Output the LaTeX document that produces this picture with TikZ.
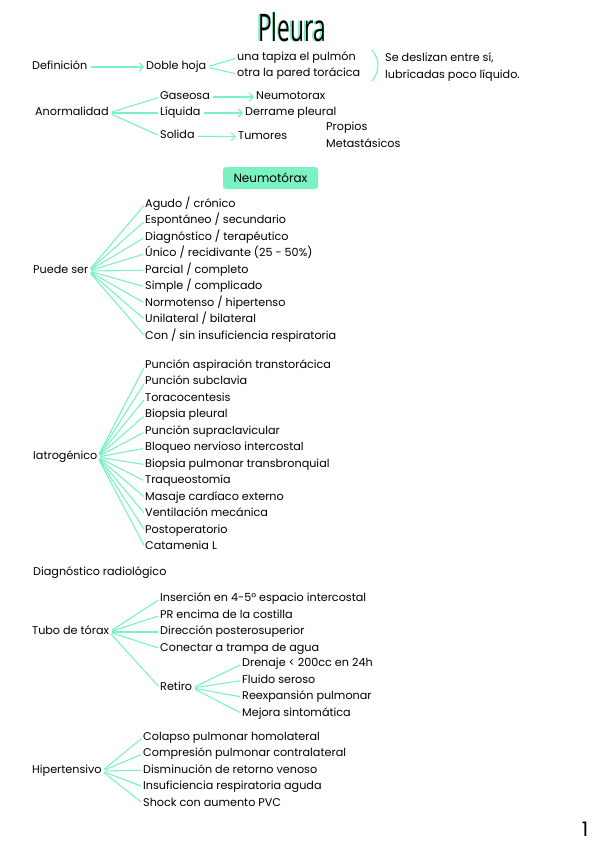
\documentclass[tikz,border=0pt]{standalone}
\usepackage{fontspec}
\setmainfont{Poppins}
\newfontfamily\titlefont{Open Sans}
\usetikzlibrary{positioning,arrows.meta}
\definecolor{mint}{RGB}{122,242,196}

\begin{document}
\begin{tikzpicture}[x=1pt,y=-1pt,
    lbl/.style={
        inner sep=0pt, anchor=west,
        text height=8pt, text depth=2.5pt,
        font=\fontsize{11.2}{13}\selectfont
    },
    under/.style={below=16.5pt of #1.west, anchor=west},
    link/.style={draw=mint, line width=1.1pt, shorten <=3pt, shorten >=2pt},
    arr/.style={link, -{Straight Barb[length=4pt,width=8pt]}},
    tag/.style={
        rectangle, fill=mint, rounded corners=3pt,
        minimum width=95pt, minimum height=22pt,
        font=\fontsize{12}{14}\selectfont
    }
]
\useasboundingbox (0,0) rectangle (599,848);

% title
\node[text=mint, font=\titlefont\fontsize{38}{40}\selectfont] (ttlbg) at (290.5,27) {\scalebox{0.6}[1]{Pleura}};
\node[font=\titlefont\fontsize{38}{40}\selectfont] (ttl) at (292,27) {\scalebox{0.6}[1]{Pleura}};

% definicion
\node[lbl] (def) at (32,67) {Definición};
\node[lbl] (dh) at (146,67) {Doble hoja};
\node[lbl] (ut) at (237,58) {una tapiza el pulmón};
\node[lbl] (ot) at (237,74) {otra la pared torácica};
\node[lbl] (sd) at (385,59) {Se deslizan entre sí,};
\node[lbl] (lb) at (385,76) {lubricadas poco líquido.};
\draw[arr] (def) -- (dh);
\draw[link] (dh.east) -- (ut.west);
\draw[link] (dh.east) -- (ot.west);
\draw[mint, line width=1.1pt] (372,50) .. controls (380,60) and (380,71) .. (372,81);

% anormalidad
\node[lbl] (an) at (35,113) {Anormalidad};
\node[lbl] (ga) at (160,97) {Gaseosa};
\node[lbl] (li) at (160,113) {Líquida};
\node[lbl] (so) at (160,136) {Solida};
\node[lbl] (ne) at (256,97) {Neumotorax};
\node[lbl] (de) at (245,113) {Derrame pleural};
\node[lbl] (tu) at (238,137) {Tumores};
\node[lbl] (pr) at (326,128) {Propios};
\node[lbl] (me) at (326,145) {Metastásicos};
\draw[link] (an.east) -- (ga.west);
\draw[link] (an.east) -- (li.west);
\draw[link] (an.east) -- (so.west);
\draw[arr] (ga) -- (ne);
\draw[arr] (li) -- (de);
\draw[arr] (so) -- (tu);

% neumotorax
\node[tag] (nt) at (270.5,178) {Neumotórax};

\node[lbl] (ps) at (33,271) {Puede ser};
\node[lbl] (ps1) at (145,204.3) {Agudo / crónico};
\node[lbl, under=ps1] (ps2) {Espontáneo / secundario};
\node[lbl, under=ps2] (ps3) {Diagnóstico / terapéutico};
\node[lbl, under=ps3] (ps4) {Único / recidivante (25 - 50\%)};
\node[lbl, under=ps4] (ps5) {Parcial / completo};
\node[lbl, under=ps5] (ps6) {Simple / complicado};
\node[lbl, under=ps6] (ps7) {Normotenso / hipertenso};
\node[lbl, under=ps7] (ps8) {Unilateral / bilateral};
\node[lbl, under=ps8] (ps9) {Con / sin insuficiencia respiratoria};
\draw[link] (ps.east) -- (ps1.west);
\draw[link] (ps.east) -- (ps2.west);
\draw[link] (ps.east) -- (ps3.west);
\draw[link] (ps.east) -- (ps4.west);
\draw[link] (ps.east) -- (ps5.west);
\draw[link] (ps.east) -- (ps6.west);
\draw[link] (ps.east) -- (ps7.west);
\draw[link] (ps.east) -- (ps8.west);
\draw[link] (ps.east) -- (ps9.west);

\node[lbl] (ia) at (33,457) {Iatrogénico};
\node[lbl] (ia1) at (145,365.7) {Punción aspiración transtorácica};
\node[lbl, under=ia1] (ia2) {Punción subclavia};
\node[lbl, under=ia2] (ia3) {Toracocentesis};
\node[lbl, under=ia3] (ia4) {Biopsia pleural};
\node[lbl, under=ia4] (ia5) {Punción supraclavicular};
\node[lbl, under=ia5] (ia6) {Bloqueo nervioso intercostal};
\node[lbl, under=ia6] (ia7) {Biopsia pulmonar transbronquial};
\node[lbl, under=ia7] (ia8) {Traqueostomía};
\node[lbl, under=ia8] (ia9) {Masaje cardíaco externo};
\node[lbl, under=ia9] (ia10) {Ventilación mecánica};
\node[lbl, under=ia10] (ia11) {Postoperatorio};
\node[lbl, under=ia11] (ia12) {Catamenia L};
\draw[link] (ia.east) -- (ia1.west);
\draw[link] (ia.east) -- (ia2.west);
\draw[link] (ia.east) -- (ia3.west);
\draw[link] (ia.east) -- (ia4.west);
\draw[link] (ia.east) -- (ia5.west);
\draw[link] (ia.east) -- (ia6.west);
\draw[link] (ia.east) -- (ia7.west);
\draw[link] (ia.east) -- (ia8.west);
\draw[link] (ia.east) -- (ia9.west);
\draw[link] (ia.east) -- (ia10.west);
\draw[link] (ia.east) -- (ia11.west);
\draw[link] (ia.east) -- (ia12.west);

\node[lbl] (dr) at (33,573) {Diagnóstico radiológico};

% tubo de torax
\node[lbl] (tt) at (32,632) {Tubo de tórax};
\node[lbl] (tt1) at (160,599) {Inserción en 4-5º espacio intercostal};
\node[lbl, under=tt1] (tt2) {PR encima de la costilla};
\node[lbl, under=tt2] (tt3) {Dirección posterosuperior};
\node[lbl, under=tt3] (tt4) {Conectar a trampa de agua};
\node[lbl] (re) at (160,688) {Retiro};
\node[lbl] (re1) at (242,664) {Drenaje < 200cc en 24h};
\node[lbl, under=re1] (re2) {Fluido seroso};
\node[lbl, under=re2] (re3) {Reexpansión pulmonar};
\node[lbl, under=re3] (re4) {Mejora sintomática};
\draw[link] (tt.east) -- (tt1.west);
\draw[link] (tt.east) -- (tt2.west);
\draw[link] (tt.east) -- (tt3.west);
\draw[link] (tt.east) -- (tt4.west);
\draw[link] (tt.east) -- (re.west);
\draw[link] (re.east) -- (re1.west);
\draw[link] (re.east) -- (re2.west);
\draw[link] (re.east) -- (re3.west);
\draw[link] (re.east) -- (re4.west);

% hipertensivo
\node[lbl] (hi) at (32,771) {Hipertensivo};
\node[lbl] (hi1) at (143,737.3) {Colapso pulmonar homolateral};
\node[lbl, under=hi1] (hi2) {Compresión pulmonar contralateral};
\node[lbl, under=hi2] (hi3) {Disminución de retorno venoso};
\node[lbl, under=hi3] (hi4) {Insuficiencia respiratoria aguda};
\node[lbl, under=hi4] (hi5) {Shock con aumento PVC};
\draw[link] (hi.east) -- (hi1.west);
\draw[link] (hi.east) -- (hi2.west);
\draw[link] (hi.east) -- (hi3.west);
\draw[link] (hi.east) -- (hi4.west);
\draw[link] (hi.east) -- (hi5.west);

\node[font=\fontsize{20}{22}\selectfont] (pg) at (585,829) {1};
\end{tikzpicture}
\end{document}
